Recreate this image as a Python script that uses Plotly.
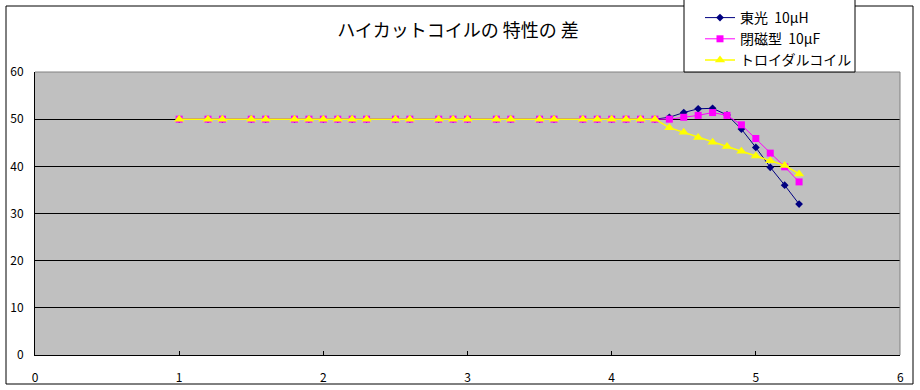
import plotly.graph_objects as go

x_vals = [1.0, 1.2, 1.3, 1.5, 1.6, 1.8, 1.9, 2.0, 2.1, 2.2, 2.3, 2.5, 2.6, 2.8, 2.9, 3.0,
          3.2, 3.3, 3.5, 3.6, 3.8, 3.9, 4.0, 4.1, 4.2, 4.3, 4.4, 4.5, 4.6, 4.7, 4.8, 4.9,
          5.0, 5.1, 5.2, 5.3]
flat = [50] * 26
toko = flat + [50.4, 51.4, 52.2, 52.3, 50.9, 47.9, 44.0, 39.8, 36.0, 32.0]
heijigata = flat + [50.0, 50.4, 50.8, 51.4, 50.8, 48.8, 45.9, 42.8, 39.9, 36.7]
toroidal = flat + [48.2, 47.2, 46.1, 45.1, 44.2, 43.2, 42.2, 41.2, 40.2, 38.4]
names = ["東光  10μH", "閉磁型  10μF", "トロイダルコイル"]
title_text = "ハイカットコイルの 特性の 差"
x_ticks = [0, 1, 2, 3, 4, 5, 6]
y_ticks = [0, 10, 20, 30, 40, 50, 60]

FONT = "Noto Sans CJK JP, Liberation Sans, sans-serif"

fig = go.Figure()
fig.add_trace(go.Scatter(x=x_vals, y=toko, name=names[0], mode="lines+markers",
                         line=dict(color="#000080", width=1),
                         marker=dict(symbol="diamond", size=6, color="#000080")))
fig.add_trace(go.Scatter(x=x_vals, y=heijigata, name=names[1], mode="lines+markers",
                         line=dict(color="#FF00FF", width=1),
                         marker=dict(symbol="square", size=7, color="#FF00FF")))
fig.add_trace(go.Scatter(x=x_vals, y=toroidal, name=names[2], mode="lines+markers",
                         line=dict(color="#FFFF00", width=1.5),
                         marker=dict(symbol="triangle-up", size=9, color="#FFFF00")))

L, R, T, B = 35, 20, 72, 35
W, H = 920, 390
pw, ph = W - L - R, H - T - B

def px(xp):
    return (xp - L) / pw

def py(yp):
    return (H - B - yp) / ph

# last x tick label placed as an annotation at its axis value (avoids label shifting)
last_tick = x_ticks[-1]

fig.update_layout(
    width=W, height=H,
    margin=dict(l=L, r=R, t=T, b=B, pad=0, autoexpand=False),
    paper_bgcolor="white",
    plot_bgcolor="#C0C0C0",
    font=dict(family=FONT, size=12, color="black"),
    title=dict(text=title_text, x=458 / W, xref="container", xanchor="center",
               y=1 - 31 / H, yanchor="middle", automargin=False,
               font=dict(family=FONT, size=18, color="black")),
    showlegend=True,
    legend=dict(x=px(700), xanchor="left", y=py(2), yanchor="top",
                bgcolor="rgba(0,0,0,0)", borderwidth=0,
                font=dict(family=FONT, size=14, color="black"),
                tracegroupgap=0, itemwidth=30),
    xaxis=dict(range=[0, 6], tickvals=x_ticks,
               ticktext=[str(t) for t in x_ticks[:-1]] + [" "],
               ticks="inside", ticklen=4,
               tickcolor="black", showgrid=False, zeroline=False, automargin=False,
               showline=True, linecolor="black", linewidth=1,
               ticklabelstandoff=12, tickfont=dict(family=FONT, size=12)),
    yaxis=dict(range=[0, 60], tickvals=y_ticks, ticks="", showgrid=True,
               gridcolor="black", gridwidth=1, zeroline=False, automargin=False,
               showline=True, linecolor="black", linewidth=1,
               ticklabelstandoff=8, tickfont=dict(family=FONT, size=12)),
    annotations=[dict(x=last_tick, xref="x", y=py(376), yref="paper",
                      text=str(last_tick), showarrow=False, xanchor="center",
                      yanchor="middle", font=dict(family=FONT, size=12, color="black"))],
    shapes=[
        dict(type="rect", xref="paper", yref="paper",
             x0=px(6), x1=px(913), y0=py(384), y1=py(6),
             line=dict(color="black", width=1), fillcolor="rgba(0,0,0,0)", layer="below"),
        dict(type="line", xref="paper", yref="paper", x0=0, x1=1, y0=1, y1=1,
             line=dict(color="#808080", width=1)),
        dict(type="line", xref="paper", yref="paper", x0=1, x1=1, y0=0, y1=1,
             line=dict(color="#808080", width=1)),
        dict(type="rect", xref="paper", yref="paper",
             x0=px(684), x1=px(855), y0=py(72), y1=py(-2),
             line=dict(color="black", width=1), fillcolor="white", layer="above"),
    ],
)

fig.write_html("out.html", config={"displayModeBar": False},
               post_script="document.body.style.margin='0px';")
